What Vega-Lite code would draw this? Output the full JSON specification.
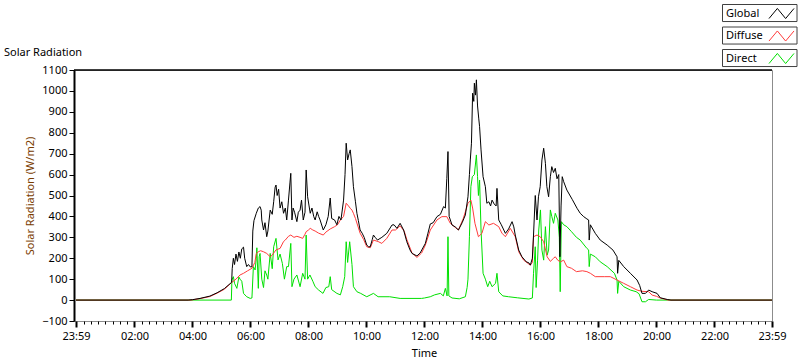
{
  "$schema": "https://vega.github.io/schema/vega-lite/v6.json",
  "width": 698,
  "height": 251,
  "autosize": {"type": "none"},
  "padding": {"left": 74, "top": 70, "right": 28, "bottom": 40},
  "background": "white",
  "config": {
    "font": "Noto Sans",
    "view": {"stroke": "#8c8c8c", "strokeWidth": 1},
    "axis": {"labelFont": "Noto Sans", "labelFontSize": 11, "labelColor": "#000", "titleFont": "Noto Sans", "titleFontSize": 11, "titleFontWeight": "normal", "grid": false, "tickColor": "#000", "domainColor": "#000", "labelOverlap": false, "labelSeparation": 0}
  },
  "title": {"text": "Solar Radiation", "anchor": "start", "frame": "group", "dx": -70, "dy": 68, "offset": 14, "fontSize": 11, "fontWeight": "normal", "font": "Noto Sans", "color": "#000"},
  "datasets": {
    "global": [
      {"h": -0.0167, "v": 0}, {"h": 3.85, "v": 0}, {"h": 4.0, "v": 2}, {"h": 4.26, "v": 8}, {"h": 4.6, "v": 19}, {"h": 4.85, "v": 35}, {"h": 5.1, "v": 55}, {"h": 5.35, "v": 85},
      {"h": 5.37, "v": 150}, {"h": 5.41, "v": 200}, {"h": 5.45, "v": 170}, {"h": 5.5, "v": 220}, {"h": 5.55, "v": 185}, {"h": 5.6, "v": 230}, {"h": 5.65, "v": 200}, {"h": 5.7, "v": 245}, {"h": 5.76, "v": 253}, {"h": 5.8, "v": 200}, {"h": 5.87, "v": 160}, {"h": 5.93, "v": 170}, {"h": 6.0, "v": 158}, {"h": 6.05, "v": 160},
      {"h": 6.08, "v": 330}, {"h": 6.12, "v": 380}, {"h": 6.2, "v": 415}, {"h": 6.27, "v": 440}, {"h": 6.33, "v": 447}, {"h": 6.37, "v": 430}, {"h": 6.39, "v": 383}, {"h": 6.45, "v": 335}, {"h": 6.5, "v": 370}, {"h": 6.56, "v": 303}, {"h": 6.6, "v": 330}, {"h": 6.68, "v": 430}, {"h": 6.75, "v": 410}, {"h": 6.8, "v": 470}, {"h": 6.85, "v": 540}, {"h": 6.88, "v": 550}, {"h": 6.92, "v": 500}, {"h": 6.97, "v": 530},
      {"h": 7.02, "v": 440}, {"h": 7.08, "v": 470}, {"h": 7.14, "v": 415}, {"h": 7.2, "v": 440}, {"h": 7.25, "v": 383}, {"h": 7.31, "v": 478}, {"h": 7.36, "v": 560}, {"h": 7.39, "v": 606}, {"h": 7.43, "v": 383}, {"h": 7.47, "v": 440}, {"h": 7.52, "v": 420}, {"h": 7.6, "v": 375}, {"h": 7.65, "v": 420}, {"h": 7.71, "v": 430}, {"h": 7.76, "v": 478}, {"h": 7.82, "v": 383}, {"h": 7.88, "v": 420}, {"h": 7.92, "v": 622}, {"h": 7.97, "v": 494},
      {"h": 8.02, "v": 450}, {"h": 8.06, "v": 415}, {"h": 8.12, "v": 440}, {"h": 8.18, "v": 400}, {"h": 8.23, "v": 383}, {"h": 8.3, "v": 422}, {"h": 8.35, "v": 400}, {"h": 8.4, "v": 383}, {"h": 8.51, "v": 335}, {"h": 8.6, "v": 360}, {"h": 8.68, "v": 400}, {"h": 8.75, "v": 488}, {"h": 8.8, "v": 390}, {"h": 8.9, "v": 383}, {"h": 8.98, "v": 360},
      {"h": 9.05, "v": 400}, {"h": 9.12, "v": 383}, {"h": 9.21, "v": 478}, {"h": 9.26, "v": 600}, {"h": 9.3, "v": 750}, {"h": 9.35, "v": 670}, {"h": 9.4, "v": 700}, {"h": 9.44, "v": 718}, {"h": 9.5, "v": 638}, {"h": 9.55, "v": 542}, {"h": 9.62, "v": 470}, {"h": 9.67, "v": 415}, {"h": 9.72, "v": 380}, {"h": 9.78, "v": 335}, {"h": 9.85, "v": 320}, {"h": 9.92, "v": 300},
      {"h": 10.01, "v": 263}, {"h": 10.07, "v": 255}, {"h": 10.13, "v": 255}, {"h": 10.2, "v": 290}, {"h": 10.24, "v": 311}, {"h": 10.3, "v": 300}, {"h": 10.38, "v": 287}, {"h": 10.53, "v": 300}, {"h": 10.7, "v": 319}, {"h": 10.88, "v": 359}, {"h": 10.95, "v": 360},
      {"h": 11.05, "v": 343}, {"h": 11.16, "v": 367}, {"h": 11.28, "v": 335}, {"h": 11.39, "v": 279}, {"h": 11.5, "v": 240}, {"h": 11.57, "v": 223}, {"h": 11.74, "v": 211}, {"h": 11.85, "v": 225},
      {"h": 12.03, "v": 271}, {"h": 12.12, "v": 320}, {"h": 12.2, "v": 364}, {"h": 12.3, "v": 370}, {"h": 12.43, "v": 399}, {"h": 12.55, "v": 410}, {"h": 12.66, "v": 447}, {"h": 12.72, "v": 440}, {"h": 12.77, "v": 582}, {"h": 12.81, "v": 710}, {"h": 12.85, "v": 400}, {"h": 12.95, "v": 359},
      {"h": 13.06, "v": 350}, {"h": 13.17, "v": 335}, {"h": 13.3, "v": 370}, {"h": 13.41, "v": 407}, {"h": 13.5, "v": 494}, {"h": 13.55, "v": 600}, {"h": 13.58, "v": 670}, {"h": 13.62, "v": 750}, {"h": 13.66, "v": 989}, {"h": 13.7, "v": 950}, {"h": 13.72, "v": 1037}, {"h": 13.76, "v": 980}, {"h": 13.79, "v": 1053}, {"h": 13.83, "v": 928}, {"h": 13.87, "v": 870}, {"h": 13.9, "v": 829}, {"h": 13.95, "v": 718},
      {"h": 14.02, "v": 590}, {"h": 14.1, "v": 542}, {"h": 14.15, "v": 463}, {"h": 14.22, "v": 470}, {"h": 14.28, "v": 450}, {"h": 14.33, "v": 478}, {"h": 14.4, "v": 460}, {"h": 14.47, "v": 450}, {"h": 14.5, "v": 534}, {"h": 14.56, "v": 383}, {"h": 14.65, "v": 360}, {"h": 14.79, "v": 319}, {"h": 14.9, "v": 340},
      {"h": 15.02, "v": 375}, {"h": 15.08, "v": 350}, {"h": 15.13, "v": 311}, {"h": 15.25, "v": 239}, {"h": 15.36, "v": 207}, {"h": 15.51, "v": 183}, {"h": 15.6, "v": 178}, {"h": 15.65, "v": 167}, {"h": 15.72, "v": 200}, {"h": 15.76, "v": 311}, {"h": 15.82, "v": 500}, {"h": 15.88, "v": 383}, {"h": 15.93, "v": 494}, {"h": 15.99, "v": 542},
      {"h": 16.05, "v": 670}, {"h": 16.11, "v": 726}, {"h": 16.17, "v": 654}, {"h": 16.22, "v": 542}, {"h": 16.28, "v": 494}, {"h": 16.34, "v": 590}, {"h": 16.39, "v": 638}, {"h": 16.45, "v": 610}, {"h": 16.51, "v": 630}, {"h": 16.57, "v": 580}, {"h": 16.63, "v": 600}, {"h": 16.67, "v": 207}, {"h": 16.71, "v": 450}, {"h": 16.75, "v": 590}, {"h": 16.8, "v": 566}, {"h": 16.91, "v": 526},
      {"h": 17.1, "v": 480}, {"h": 17.26, "v": 439}, {"h": 17.37, "v": 415}, {"h": 17.49, "v": 399}, {"h": 17.6, "v": 388}, {"h": 17.66, "v": 383}, {"h": 17.68, "v": 287}, {"h": 17.72, "v": 360}, {"h": 17.89, "v": 319},
      {"h": 18.06, "v": 287}, {"h": 18.3, "v": 263}, {"h": 18.5, "v": 239}, {"h": 18.64, "v": 207}, {"h": 18.66, "v": 128}, {"h": 18.7, "v": 190}, {"h": 18.87, "v": 160},
      {"h": 19.1, "v": 128}, {"h": 19.33, "v": 96}, {"h": 19.42, "v": 70}, {"h": 19.5, "v": 32}, {"h": 19.62, "v": 32}, {"h": 19.73, "v": 48}, {"h": 19.85, "v": 40},
      {"h": 20.02, "v": 32}, {"h": 20.13, "v": 11}, {"h": 20.37, "v": 3}, {"h": 20.5, "v": 0}, {"h": 23.9833, "v": 0}
    ],
    "diffuse": [
      {"h": -0.0167, "v": 0}, {"h": 3.95, "v": 0}, {"h": 4.26, "v": 7}, {"h": 4.6, "v": 17}, {"h": 4.85, "v": 33}, {"h": 5.1, "v": 52}, {"h": 5.36, "v": 85}, {"h": 5.5, "v": 100}, {"h": 5.64, "v": 120}, {"h": 5.76, "v": 128}, {"h": 5.9, "v": 140},
      {"h": 6.05, "v": 152}, {"h": 6.15, "v": 180}, {"h": 6.2, "v": 223}, {"h": 6.27, "v": 231}, {"h": 6.35, "v": 236}, {"h": 6.45, "v": 231}, {"h": 6.56, "v": 223}, {"h": 6.68, "v": 207}, {"h": 6.75, "v": 215}, {"h": 6.88, "v": 240},
      {"h": 7.02, "v": 247}, {"h": 7.14, "v": 280}, {"h": 7.2, "v": 287}, {"h": 7.31, "v": 305}, {"h": 7.39, "v": 311}, {"h": 7.5, "v": 300}, {"h": 7.6, "v": 305}, {"h": 7.71, "v": 300}, {"h": 7.8, "v": 295}, {"h": 7.88, "v": 315}, {"h": 7.92, "v": 327},
      {"h": 8.0, "v": 335}, {"h": 8.06, "v": 343}, {"h": 8.15, "v": 335}, {"h": 8.23, "v": 330}, {"h": 8.35, "v": 320}, {"h": 8.51, "v": 311}, {"h": 8.6, "v": 325}, {"h": 8.75, "v": 340}, {"h": 8.9, "v": 351},
      {"h": 9.0, "v": 360}, {"h": 9.1, "v": 383}, {"h": 9.21, "v": 400}, {"h": 9.3, "v": 463}, {"h": 9.38, "v": 450}, {"h": 9.44, "v": 439}, {"h": 9.5, "v": 430}, {"h": 9.55, "v": 415}, {"h": 9.62, "v": 390}, {"h": 9.78, "v": 320}, {"h": 9.9, "v": 290},
      {"h": 10.01, "v": 255}, {"h": 10.13, "v": 250}, {"h": 10.24, "v": 287}, {"h": 10.4, "v": 280}, {"h": 10.53, "v": 271}, {"h": 10.7, "v": 295}, {"h": 10.88, "v": 335},
      {"h": 11.0, "v": 335}, {"h": 11.16, "v": 355}, {"h": 11.3, "v": 330}, {"h": 11.39, "v": 290}, {"h": 11.57, "v": 225}, {"h": 11.74, "v": 204}, {"h": 11.9, "v": 225},
      {"h": 12.03, "v": 263}, {"h": 12.2, "v": 335}, {"h": 12.43, "v": 383}, {"h": 12.6, "v": 399}, {"h": 12.77, "v": 399}, {"h": 12.89, "v": 367},
      {"h": 13.17, "v": 335}, {"h": 13.34, "v": 391}, {"h": 13.5, "v": 463}, {"h": 13.6, "v": 478}, {"h": 13.66, "v": 440}, {"h": 13.74, "v": 367}, {"h": 13.86, "v": 303}, {"h": 13.98, "v": 319},
      {"h": 14.1, "v": 375}, {"h": 14.22, "v": 359}, {"h": 14.38, "v": 367}, {"h": 14.56, "v": 351}, {"h": 14.67, "v": 320}, {"h": 14.79, "v": 303}, {"h": 14.96, "v": 343},
      {"h": 15.13, "v": 303}, {"h": 15.25, "v": 231}, {"h": 15.42, "v": 191}, {"h": 15.65, "v": 167}, {"h": 15.72, "v": 180}, {"h": 15.76, "v": 303}, {"h": 15.88, "v": 311}, {"h": 15.99, "v": 303},
      {"h": 16.11, "v": 279}, {"h": 16.23, "v": 207}, {"h": 16.34, "v": 185}, {"h": 16.45, "v": 200}, {"h": 16.51, "v": 207}, {"h": 16.6, "v": 190}, {"h": 16.69, "v": 183}, {"h": 16.8, "v": 191}, {"h": 16.91, "v": 160},
      {"h": 17.07, "v": 152}, {"h": 17.24, "v": 136}, {"h": 17.45, "v": 140}, {"h": 17.6, "v": 136}, {"h": 17.72, "v": 128}, {"h": 17.89, "v": 112},
      {"h": 18.2, "v": 112}, {"h": 18.41, "v": 112}, {"h": 18.64, "v": 96}, {"h": 18.87, "v": 80},
      {"h": 19.1, "v": 64}, {"h": 19.33, "v": 48}, {"h": 19.5, "v": 42}, {"h": 19.73, "v": 40}, {"h": 19.85, "v": 24},
      {"h": 20.0, "v": 18}, {"h": 20.13, "v": 10}, {"h": 20.4, "v": 0}, {"h": 23.9833, "v": 0}
    ],
    "direct": [
      {"h": -0.0167, "v": 0}, {"h": 5.34, "v": 0}, {"h": 5.36, "v": 96}, {"h": 5.41, "v": 112}, {"h": 5.45, "v": 80}, {"h": 5.53, "v": 56}, {"h": 5.6, "v": 110}, {"h": 5.64, "v": 100}, {"h": 5.7, "v": 90}, {"h": 5.76, "v": 32}, {"h": 5.87, "v": 16}, {"h": 5.99, "v": 8},
      {"h": 6.05, "v": 10}, {"h": 6.1, "v": 160}, {"h": 6.16, "v": 144}, {"h": 6.2, "v": 200}, {"h": 6.22, "v": 250}, {"h": 6.27, "v": 56}, {"h": 6.3, "v": 207}, {"h": 6.33, "v": 223}, {"h": 6.39, "v": 100}, {"h": 6.45, "v": 60}, {"h": 6.5, "v": 140}, {"h": 6.56, "v": 120}, {"h": 6.6, "v": 100}, {"h": 6.68, "v": 223}, {"h": 6.75, "v": 150}, {"h": 6.8, "v": 255}, {"h": 6.88, "v": 295}, {"h": 6.95, "v": 192},
      {"h": 7.02, "v": 220}, {"h": 7.1, "v": 175}, {"h": 7.17, "v": 100}, {"h": 7.25, "v": 160}, {"h": 7.31, "v": 160}, {"h": 7.39, "v": 271}, {"h": 7.43, "v": 64}, {"h": 7.5, "v": 100}, {"h": 7.6, "v": 120}, {"h": 7.71, "v": 64}, {"h": 7.8, "v": 128}, {"h": 7.88, "v": 100}, {"h": 7.92, "v": 311}, {"h": 7.97, "v": 100},
      {"h": 8.05, "v": 120}, {"h": 8.15, "v": 90}, {"h": 8.23, "v": 64}, {"h": 8.35, "v": 48}, {"h": 8.5, "v": 32}, {"h": 8.6, "v": 60}, {"h": 8.7, "v": 64}, {"h": 8.75, "v": 112}, {"h": 8.8, "v": 50}, {"h": 8.98, "v": 32},
      {"h": 9.1, "v": 25}, {"h": 9.18, "v": 64}, {"h": 9.25, "v": 112}, {"h": 9.3, "v": 279}, {"h": 9.35, "v": 180}, {"h": 9.42, "v": 279}, {"h": 9.5, "v": 170}, {"h": 9.55, "v": 64}, {"h": 9.67, "v": 40}, {"h": 9.8, "v": 32},
      {"h": 10.01, "v": 16}, {"h": 10.24, "v": 32}, {"h": 10.4, "v": 16}, {"h": 10.8, "v": 16}, {"h": 11.16, "v": 8}, {"h": 11.9, "v": 8},
      {"h": 12.0, "v": 10}, {"h": 12.2, "v": 16}, {"h": 12.35, "v": 25}, {"h": 12.55, "v": 32}, {"h": 12.65, "v": 20}, {"h": 12.72, "v": 56}, {"h": 12.78, "v": 20}, {"h": 12.81, "v": 303}, {"h": 12.84, "v": 20}, {"h": 12.95, "v": 10},
      {"h": 13.2, "v": 6}, {"h": 13.41, "v": 16}, {"h": 13.47, "v": 60}, {"h": 13.5, "v": 100}, {"h": 13.55, "v": 303}, {"h": 13.6, "v": 542}, {"h": 13.65, "v": 590}, {"h": 13.72, "v": 600}, {"h": 13.79, "v": 694}, {"h": 13.83, "v": 590}, {"h": 13.86, "v": 500}, {"h": 13.9, "v": 574}, {"h": 13.95, "v": 335},
      {"h": 14.02, "v": 128}, {"h": 14.1, "v": 100}, {"h": 14.18, "v": 64}, {"h": 14.25, "v": 90}, {"h": 14.33, "v": 64}, {"h": 14.45, "v": 80}, {"h": 14.5, "v": 128}, {"h": 14.56, "v": 40}, {"h": 14.7, "v": 20}, {"h": 14.9, "v": 16},
      {"h": 15.2, "v": 11}, {"h": 15.6, "v": 5}, {"h": 15.72, "v": 10}, {"h": 15.76, "v": 128}, {"h": 15.82, "v": 255}, {"h": 15.85, "v": 60}, {"h": 15.9, "v": 191}, {"h": 15.94, "v": 335},
      {"h": 16.0, "v": 431}, {"h": 16.05, "v": 239}, {"h": 16.11, "v": 191}, {"h": 16.17, "v": 351}, {"h": 16.23, "v": 215}, {"h": 16.28, "v": 239}, {"h": 16.34, "v": 431}, {"h": 16.39, "v": 400}, {"h": 16.45, "v": 367}, {"h": 16.51, "v": 415}, {"h": 16.6, "v": 383}, {"h": 16.65, "v": 300}, {"h": 16.68, "v": 40}, {"h": 16.72, "v": 375}, {"h": 16.8, "v": 360}, {"h": 16.91, "v": 351},
      {"h": 17.07, "v": 327}, {"h": 17.24, "v": 300}, {"h": 17.37, "v": 287}, {"h": 17.6, "v": 247}, {"h": 17.66, "v": 240}, {"h": 17.68, "v": 160}, {"h": 17.72, "v": 220}, {"h": 17.89, "v": 207},
      {"h": 18.06, "v": 183}, {"h": 18.3, "v": 160}, {"h": 18.55, "v": 128}, {"h": 18.64, "v": 96}, {"h": 18.66, "v": 32}, {"h": 18.7, "v": 90}, {"h": 18.87, "v": 64},
      {"h": 19.1, "v": 48}, {"h": 19.3, "v": 40}, {"h": 19.4, "v": 30}, {"h": 19.5, "v": -8}, {"h": 19.62, "v": -8}, {"h": 19.73, "v": 3}, {"h": 20.0, "v": 0}, {"h": 23.9833, "v": 0}
    ],
    "frame": [{"v": 1100}]
  },
  "layer": [
    {
      "data": {"name": "frame"},
      "mark": {"type": "rule", "color": "#000", "strokeWidth": 1.5},
      "encoding": {"y": {"field": "v", "type": "quantitative", "scale": {"domain": [-100, 1100], "nice": false, "zero": false},
          "axis": {"title": "Solar Radiation (W/m2)", "titleColor": "#7a3c00", "titlePadding": 6, "values": [-100, 0, 100, 200, 300, 400, 500, 600, 700, 800, 900, 1000, 1100], "tickCount": 13, "format": "d", "tickSize": 5, "labelPadding": 2, "domainWidth": 2, "labelOverlap": false}}}
    },
    {
      "data": {"name": "direct"},
      "mark": {"type": "line", "strokeWidth": 1, "interpolate": "linear"},
      "encoding": {
        "x": {"field": "h", "type": "quantitative", "scale": {"domain": [-0.0167, 23.9833], "range": [2, 698], "nice": false, "zero": false},
          "axis": {"title": "Time", "titleColor": "#000", "titlePadding": 6, "domain": false, "tickCount": 100,
            "values": [-0.0167, 0.25, 0.5, 0.75, 1, 1.25, 1.5, 1.75, 2, 2.25, 2.5, 2.75, 3, 3.25, 3.5, 3.75, 4, 4.25, 4.5, 4.75, 5, 5.25, 5.5, 5.75, 6, 6.25, 6.5, 6.75, 7, 7.25, 7.5, 7.75, 8, 8.25, 8.5, 8.75, 9, 9.25, 9.5, 9.75, 10, 10.25, 10.5, 10.75, 11, 11.25, 11.5, 11.75, 12, 12.25, 12.5, 12.75, 13, 13.25, 13.5, 13.75, 14, 14.25, 14.5, 14.75, 15, 15.25, 15.5, 15.75, 16, 16.25, 16.5, 16.75, 17, 17.25, 17.5, 17.75, 18, 18.25, 18.5, 18.75, 19, 19.25, 19.5, 19.75, 20, 20.25, 20.5, 20.75, 21, 21.25, 21.5, 21.75, 22, 22.25, 22.5, 22.75, 23, 23.25, 23.5, 23.75, 23.9833],
            "labelExpr": "datum.value < 0.1 || datum.value > 23.9 ? '23:59' : (datum.value % 2 == 0 ? (datum.value < 10 ? '0' : '') + datum.value + ':00' : '')",
            "labelFlush": false, "labelOverlap": false, "labelBound": false, "labelPadding": 3,
            "tickSize": {"condition": {"test": "datum.value % 2 == 0 || datum.value < 0.1 || datum.value > 23.9", "value": 6}, "value": 3},
            "tickWidth": {"condition": {"test": "datum.value % 2 == 0 || datum.value < 0.1 || datum.value > 23.9", "value": 2}, "value": 1}}},
        "y": {"field": "v", "type": "quantitative",
          "axis": {"title": "Solar Radiation (W/m2)", "titleColor": "#7a3c00", "titlePadding": 6, "values": [-100, 0, 100, 200, 300, 400, 500, 600, 700, 800, 900, 1000, 1100], "tickCount": 13, "format": "d", "tickSize": 5, "labelPadding": 2, "domainWidth": 2, "labelOverlap": false}},
        "color": {"datum": "Direct", "type": "nominal",
          "scale": {"domain": ["Global", "Diffuse", "Direct"], "range": ["#000000", "#ff3b3b", "#00e000"]},
          "legend": {"orient": "none", "legendX": 648, "legendY": -66, "title": null, "direction": "vertical", "padding": 0, "rowPadding": 4.5, "symbolType": "M-1.39,0.56L-0.46,-0.56L0.46,0.56L1.39,-0.56", "symbolSize": 324, "symbolStrokeWidth": 1, "symbolFillColor": "transparent", "symbolOffset": 50, "labelOffset": -65, "labelFontSize": 11, "labelFont": "Noto Sans", "labelColor": "#000",
            "encode": {"entries": {"update": {"stroke": {"value": "#404040"}, "strokeWidth": {"value": 1}, "fill": {"value": "#ffffff"}}}}}}
      }
    },
    {
      "data": {"name": "diffuse"},
      "mark": {"type": "line", "strokeWidth": 1, "interpolate": "linear"},
      "encoding": {
        "x": {"field": "h", "type": "quantitative"},
        "y": {"field": "v", "type": "quantitative"},
        "color": {"datum": "Diffuse", "type": "nominal"}
      }
    },
    {
      "data": {"name": "global"},
      "mark": {"type": "line", "strokeWidth": 1, "interpolate": "linear"},
      "encoding": {
        "x": {"field": "h", "type": "quantitative"},
        "y": {"field": "v", "type": "quantitative"},
        "color": {"datum": "Global", "type": "nominal"}
      }
    }
  ]
}
